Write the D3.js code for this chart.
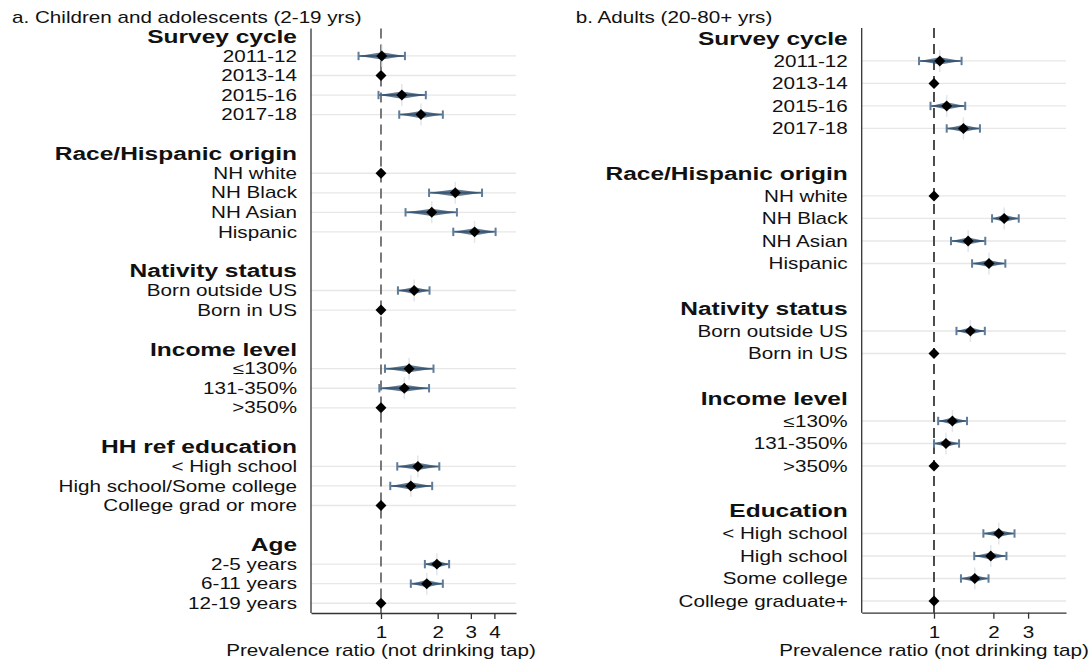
<!DOCTYPE html>
<html>
<head>
<meta charset="utf-8">
<script src="https://cdn.jsdelivr.net/npm/d3@7"></script>
<style>
  body { margin: 0; background: #fff; }
  svg { display: block; }
  text { font-family: "Liberation Sans", Arial, Helvetica, sans-serif; fill: #111; }
</style>
</head>
<body>
<svg id="chart" width="1089" height="666"></svg>
<script>
// ---- Panel a: children and adolescents (2-19 yrs) ----
const childGroups = ["Survey cycle", "Race/Hispanic origin", "Nativity status", "Income level", "HH ref education", "Age"];
const childGroupSizes = [4, 4, 2, 3, 3, 3];
const childLabels = ["2011-12", "2013-14", "2015-16", "2017-18",
  "NH white", "NH Black", "NH Asian", "Hispanic",
  "Born outside US", "Born in US",
  "≤130%", "131-350%", ">350%",
  "< High school", "High school/Some college", "College grad or more",
  "2-5 years", "6-11 years", "12-19 years"];
const childPR = [1.01, 1, 1.29, 1.63, 1, 2.48, 1.86, 3.14, 1.50, 1, 1.41, 1.33, 1, 1.57, 1.44, 1, 1.98, 1.75, 1];
const childLo = [0.76, null, 0.97, 1.25, null, 1.80, 1.35, 2.42, 1.23, null, 1.05, 0.98, null, 1.22, 1.12, null, 1.71, 1.44, null];
const childHi = [1.34, null, 1.73, 2.13, null, 3.44, 2.53, 4.06, 1.81, null, 1.90, 1.80, null, 2.04, 1.87, null, 2.30, 2.13, null];
const childTicks = [1, 2, 3, 4];

// ---- Panel b: adults (20-80+ yrs) ----
const adultGroups = ["Survey cycle", "Race/Hispanic origin", "Nativity status", "Income level", "Education"];
const adultGroupSizes = [4, 4, 2, 3, 4];
const adultLabels = ["2011-12", "2013-14", "2015-16", "2017-18",
  "NH white", "NH Black", "NH Asian", "Hispanic",
  "Born outside US", "Born in US",
  "≤130%", "131-350%", ">350%",
  "< High school", "High school", "Some college", "College graduate+"];
const adultPR = [1.07, 1, 1.16, 1.41, 1, 2.27, 1.49, 1.90, 1.53, 1, 1.24, 1.15, 1, 2.13, 1.94, 1.61, 1];
const adultLo = [0.84, null, 0.96, 1.16, null, 1.97, 1.22, 1.56, 1.30, null, 1.05, 1.00, null, 1.78, 1.60, 1.37, null];
const adultHi = [1.38, null, 1.44, 1.71, null, 2.69, 1.82, 2.30, 1.81, null, 1.47, 1.34, null, 2.56, 2.33, 1.89, null];
const adultTicks = [1, 2, 3];

const axisTitle = "Prevalence ratio (not drinking tap)";

// Text in this figure is set in a horizontally widened face
const SX = 1.29;
const svg = d3.select("#chart");

function stretchedText(g, x, y, str, opts) {
  return g.append("text")
    .attr("transform", `translate(${x},${y}) scale(${SX},1)`)
    .attr("text-anchor", opts.anchor || "start")
    .style("font-size", (opts.size || 16) + "px")
    .style("font-weight", opts.bold ? "bold" : "normal")
    .text(str);
}

function drawPanel(cfg) {
  const g = svg.append("g");

  // row index for headers and items: header, items, blank spacer, next header...
  const headerRows = [];
  const itemRows = [];
  let start = -1;
  cfg.groups.forEach((name, gi) => {
    headerRows.push({ name, row: start });
    for (let k = 1; k <= cfg.sizes[gi]; k++) itemRows.push(start + k);
    start += cfg.sizes[gi] + 2;
  });

  const items = cfg.labels.map((label, i) => ({
    label, row: itemRows[i], pr: cfg.pr[i], lo: cfg.lo[i], hi: cfg.hi[i]
  }));

  const x = d3.scaleLog().domain(cfg.xDomain).range([cfg.left, cfg.right]);
  const y = d3.scaleLinear().domain(cfg.rowDomain).range([cfg.top, cfg.bottom]);

  // panel title
  stretchedText(g, cfg.titleX, 22.5, cfg.title, { size: 16 });

  // horizontal guide lines for each item row
  g.selectAll("line.grid").data(items).join("line")
    .attr("class", "grid")
    .attr("x1", cfg.left).attr("x2", cfg.right)
    .attr("y1", d => y(d.row)).attr("y2", d => y(d.row))
    .attr("stroke", "#e7e7e7").attr("stroke-width", 1.3);

  // reference line at PR = 1
  g.append("line")
    .attr("x1", x(1)).attr("x2", x(1))
    .attr("y1", cfg.top).attr("y2", cfg.bottom)
    .attr("stroke", cfg.refColor).attr("stroke-width", 1.6)
    .attr("stroke-dasharray", "10,6");

  // y axis line
  g.append("line")
    .attr("x1", cfg.left).attr("x2", cfg.left)
    .attr("y1", cfg.top).attr("y2", cfg.bottom)
    .attr("stroke", "#333").attr("stroke-width", 1.3);

  // x axis
  const xAxis = d3.axisBottom(x).tickValues(cfg.ticks).tickFormat(d3.format("d"))
    .tickSize(6).tickSizeOuter(0).tickPadding(8);
  const ax = g.append("g").attr("transform", `translate(0,${cfg.bottom})`).call(xAxis);
  ax.select(".domain").attr("stroke", "#333").attr("stroke-width", 1.3);
  ax.selectAll(".tick line").attr("stroke", "#333").attr("stroke-width", 1.3);
  ax.selectAll(".tick text")
    .attr("fill", "#111")
    .style("font-size", "16px")
    .style("font-family", '"Liberation Sans", Arial, Helvetica, sans-serif')
    .attr("transform", `scale(${SX},1)`);

  // axis title
  stretchedText(g, x(1), 656, axisTitle, { size: 16, anchor: "middle" });

  // group headers and row labels
  headerRows.forEach(h => {
    stretchedText(g, cfg.left - 14, y(h.row) + 6.5, h.name, { size: 19, bold: true, anchor: "end" });
  });
  items.forEach(d => {
    stretchedText(g, cfg.left - 14, y(d.row) + 5.7, d.label, { size: 16, anchor: "end" });
  });

  const withCI = items.filter(d => d.lo != null);

  // faint vertical glow through estimates
  g.selectAll("line.glow").data(withCI).join("line")
    .attr("class", "glow")
    .attr("x1", d => x(d.pr)).attr("x2", d => x(d.pr))
    .attr("y1", d => y(d.row) - 11).attr("y2", d => y(d.row) + 11)
    .attr("stroke", "#d5dde5").attr("stroke-width", 1.5).attr("opacity", 0.7);

  // confidence interval: whisker line
  g.selectAll("line.ci").data(withCI).join("line")
    .attr("class", "ci")
    .attr("x1", d => x(d.lo)).attr("x2", d => x(d.hi))
    .attr("y1", d => y(d.row)).attr("y2", d => y(d.row))
    .attr("stroke", "#5f7c98").attr("stroke-width", 2);

  // tapered band around the interval
  g.selectAll("path.band").data(withCI).join("path")
    .attr("class", "band")
    .attr("d", d => {
      const yy = y(d.row);
      return `M${x(d.lo)},${yy}L${x(d.pr)},${yy - 3.6}L${x(d.hi)},${yy}L${x(d.pr)},${yy + 3.6}Z`;
    })
    .attr("fill", "#2d4b68").attr("opacity", 0.75);

  // interval caps
  ["lo", "hi"].forEach(k => {
    g.selectAll("line.cap-" + k).data(withCI).join("line")
      .attr("class", "cap-" + k)
      .attr("x1", d => x(d[k])).attr("x2", d => x(d[k]))
      .attr("y1", d => y(d.row) - 4.2).attr("y2", d => y(d.row) + 4.2)
      .attr("stroke", "#5f7c98").attr("stroke-width", 2);
  });

  // point estimates (diamonds)
  const diamond = d3.symbol().type(d3.symbolSquare).size(60);
  g.selectAll("path.pt").data(items).join("path")
    .attr("class", "pt")
    .attr("d", diamond)
    .attr("transform", d => `translate(${x(d.pr)},${y(d.row)}) rotate(45)`)
    .attr("fill", "#000");
}

drawPanel({
  groups: childGroups, sizes: childGroupSizes, labels: childLabels,
  pr: childPR, lo: childLo, hi: childHi, ticks: childTicks,
  title: "a. Children and adolescents (2-19 yrs)", titleX: 12,
  left: 311, right: 516, top: 28.6, bottom: 613,
  xDomain: [0.425, 5.21], rowDomain: [-1.4, 28.5], refColor: "#5a5a5a"
});

drawPanel({
  groups: adultGroups, sizes: adultGroupSizes, labels: adultLabels,
  pr: adultPR, lo: adultLo, hi: adultHi, ticks: adultTicks,
  title: "b. Adults (20-80+ yrs)", titleX: 575.7,
  left: 861.7, right: 1066, top: 28, bottom: 612.7,
  xDomain: [0.43, 4.67], rowDomain: [-1.465, 24.52], refColor: "#222"
});
</script>
</body>
</html>
